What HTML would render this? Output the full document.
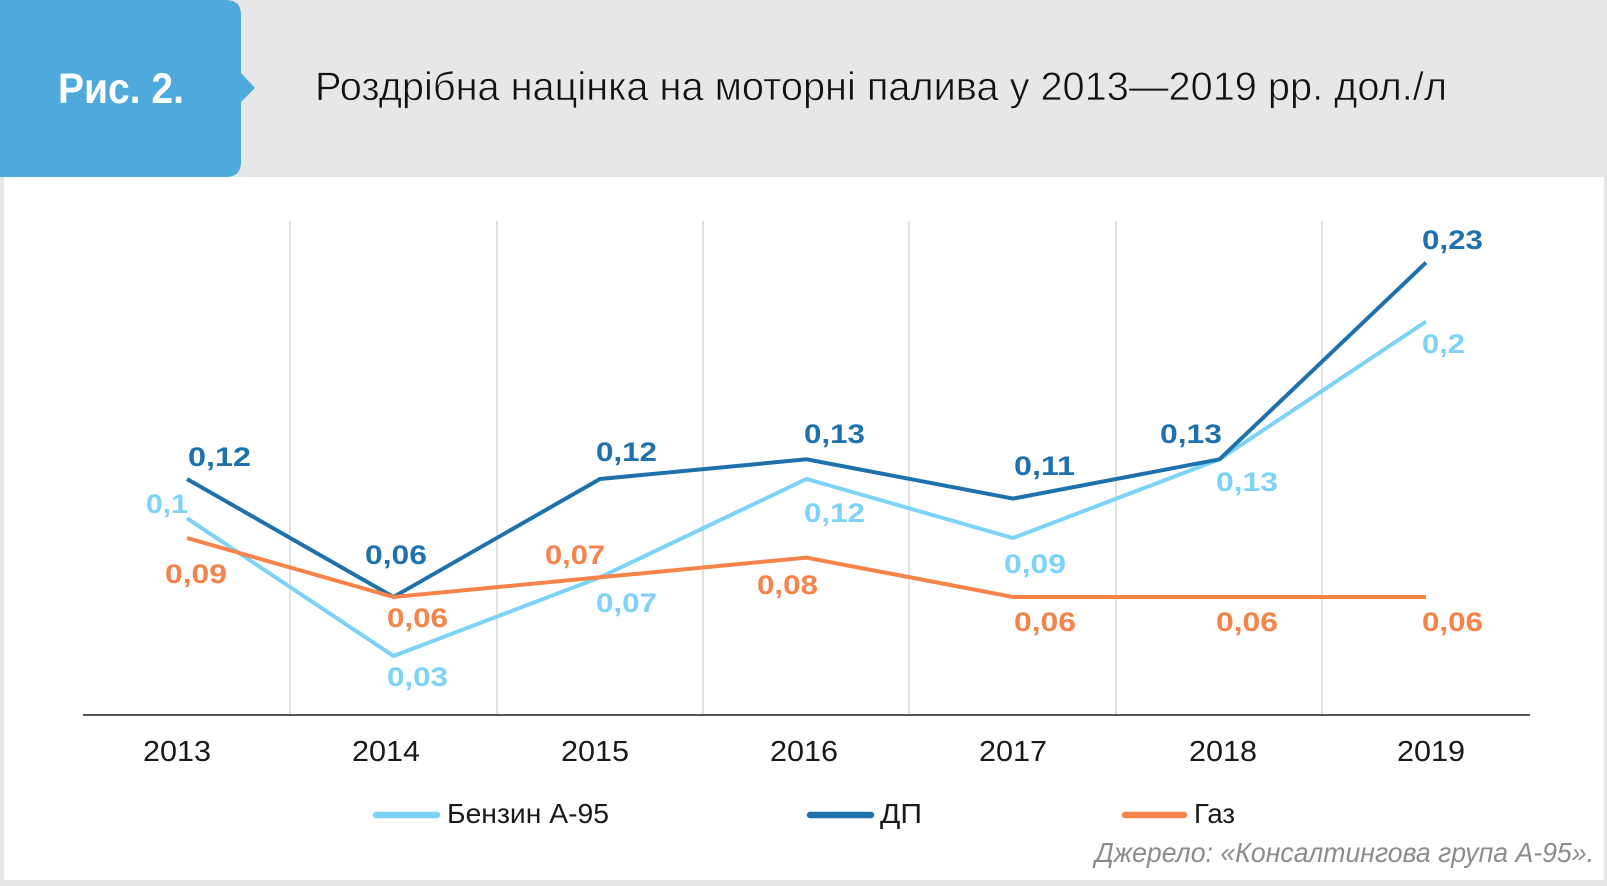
<!DOCTYPE html>
<html>
<head>
<meta charset="utf-8">
<style>
  html, body { margin: 0; padding: 0; background: #E6E7E9; }
  svg { display: block; }
  text { font-family: "Liberation Sans", "DejaVu Sans", sans-serif; }
</style>
</head>
<body>
<svg width="1607" height="886" viewBox="0 0 1607 886" xmlns="http://www.w3.org/2000/svg">
  <!-- backgrounds -->
  <rect x="0" y="0" width="1607" height="886" fill="#E6E7E9"/>
  <rect x="4" y="177" width="1600" height="703" fill="#FFFFFF"/>

  <!-- header badge -->
  <path d="M0,0 H226 Q241,0 241,15 V73 L255,88 L241,102 V162 Q241,177 226,177 H0 Z" fill="#4EA9DD"/>
  <text x="58" y="103" font-size="43" font-weight="bold" fill="#FFFFFF" textLength="126" lengthAdjust="spacingAndGlyphs">Рис. 2.</text>
  <text x="315" y="100" font-size="40" fill="#111111" stroke="#E6E7E9" stroke-width="0.7" textLength="1132" lengthAdjust="spacingAndGlyphs">Роздрібна націнка на моторні палива у 2013—2019 рр. дол./л</text>

  <!-- gridlines -->
  <g stroke="#D9D9D9" stroke-width="1.5">
    <line x1="290" y1="221" x2="290" y2="715"/>
    <line x1="497" y1="221" x2="497" y2="715"/>
    <line x1="703" y1="221" x2="703" y2="715"/>
    <line x1="909" y1="221" x2="909" y2="715"/>
    <line x1="1116" y1="221" x2="1116" y2="715"/>
    <line x1="1322" y1="221" x2="1322" y2="715"/>
  </g>
  <!-- axis -->
  <line x1="83" y1="715" x2="1530" y2="715" stroke="#555555" stroke-width="2"/>

  <!-- series -->
  <g fill="none" stroke-width="4" stroke-linejoin="miter" stroke-linecap="butt">
    <polyline stroke="#7DD3F7" points="187,518.3 393.5,656 600,577.3 806.5,479 1013,538 1219.5,459.3 1426,321.6"/>
    <polyline stroke="#1F71AD" points="187,479 393.5,597 600,479 806.5,459.3 1013,498.6 1219.5,459.3 1426,262.6"/>
    <polyline stroke="#F5834A" points="187,538 393.5,597 600,577.3 806.5,557.6 1013,597 1219.5,597 1426,597"/>
  </g>

  <!-- data labels -->
  <g font-size="27" font-weight="bold">
    <g fill="#1F71AD">
      <text x="188" y="466" textLength="63" lengthAdjust="spacingAndGlyphs">0,12</text>
      <text x="365" y="564" textLength="62" lengthAdjust="spacingAndGlyphs">0,06</text>
      <text x="596" y="461" textLength="61" lengthAdjust="spacingAndGlyphs">0,12</text>
      <text x="804" y="443" textLength="61" lengthAdjust="spacingAndGlyphs">0,13</text>
      <text x="1014" y="475" textLength="61" lengthAdjust="spacingAndGlyphs">0,11</text>
      <text x="1160" y="443" textLength="62" lengthAdjust="spacingAndGlyphs">0,13</text>
      <text x="1422" y="249" textLength="61" lengthAdjust="spacingAndGlyphs">0,23</text>
    </g>
    <g fill="#7DD3F7">
      <text x="146" y="513" textLength="42" lengthAdjust="spacingAndGlyphs">0,1</text>
      <text x="387" y="686" textLength="61" lengthAdjust="spacingAndGlyphs">0,03</text>
      <text x="596" y="612" textLength="61" lengthAdjust="spacingAndGlyphs">0,07</text>
      <text x="804" y="522" textLength="61" lengthAdjust="spacingAndGlyphs">0,12</text>
      <text x="1004" y="573" textLength="62" lengthAdjust="spacingAndGlyphs">0,09</text>
      <text x="1216" y="491" textLength="62" lengthAdjust="spacingAndGlyphs">0,13</text>
      <text x="1422" y="353" textLength="43" lengthAdjust="spacingAndGlyphs">0,2</text>
    </g>
    <g fill="#F5834A">
      <text x="165" y="583" textLength="62" lengthAdjust="spacingAndGlyphs">0,09</text>
      <text x="387" y="627" textLength="61" lengthAdjust="spacingAndGlyphs">0,06</text>
      <text x="545" y="564" textLength="60" lengthAdjust="spacingAndGlyphs">0,07</text>
      <text x="757" y="594" textLength="61" lengthAdjust="spacingAndGlyphs">0,08</text>
      <text x="1014" y="631" textLength="62" lengthAdjust="spacingAndGlyphs">0,06</text>
      <text x="1216" y="631" textLength="62" lengthAdjust="spacingAndGlyphs">0,06</text>
      <text x="1422" y="631" textLength="61" lengthAdjust="spacingAndGlyphs">0,06</text>
    </g>
  </g>

  <!-- x axis labels -->
  <g font-size="29" fill="#1a1a1a" text-anchor="middle">
    <text x="177" y="761" textLength="68" lengthAdjust="spacingAndGlyphs">2013</text>
    <text x="386" y="761" textLength="68" lengthAdjust="spacingAndGlyphs">2014</text>
    <text x="595" y="761" textLength="68" lengthAdjust="spacingAndGlyphs">2015</text>
    <text x="804" y="761" textLength="68" lengthAdjust="spacingAndGlyphs">2016</text>
    <text x="1013" y="761" textLength="68" lengthAdjust="spacingAndGlyphs">2017</text>
    <text x="1223" y="761" textLength="68" lengthAdjust="spacingAndGlyphs">2018</text>
    <text x="1431" y="761" textLength="68" lengthAdjust="spacingAndGlyphs">2019</text>
  </g>

  <!-- legend -->
  <g stroke-width="6.5" stroke-linecap="round">
    <line x1="376" y1="815" x2="437" y2="815" stroke="#7DD3F7"/>
    <line x1="810" y1="815" x2="871" y2="815" stroke="#1F71AD"/>
    <line x1="1125" y1="815" x2="1184" y2="815" stroke="#F5834A"/>
  </g>
  <g font-size="28" fill="#1a1a1a">
    <text x="447" y="823" textLength="162" lengthAdjust="spacingAndGlyphs">Бензин А-95</text>
    <text x="880" y="823" textLength="42" lengthAdjust="spacingAndGlyphs">ДП</text>
    <text x="1194" y="823" textLength="41" lengthAdjust="spacingAndGlyphs">Газ</text>
  </g>

  <!-- source -->
  <text x="1095" y="862" font-size="28" font-style="italic" fill="#8C8C8C" textLength="499" lengthAdjust="spacingAndGlyphs">Джерело: «Консалтингова група А-95».</text>
</svg>
</body>
</html>
